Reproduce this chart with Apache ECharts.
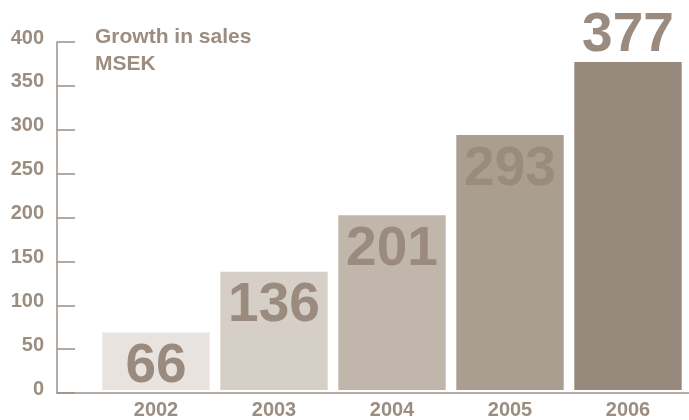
<!DOCTYPE html>
<html><head><meta charset="utf-8">
<script src="https://cdn.jsdelivr.net/npm/echarts@6/dist/echarts.min.js"></script>
<style>html,body{margin:0;padding:0;background:#fff}#c{width:689px;height:420px}</style>
</head><body><div id="c"></div>
<script>
const years = ['2002','2003','2004','2005','2006'];
const sales = [66,136,201,293,377];
const barColors = ['#e8e3df','#d6cfc7','#c1b6ac','#aa9e90','#978a7d'];
const labelPositions = ['insideTop','insideTop','insideTop','insideTop','top'];
const yTicks = [0,50,100,150,200,250,300,350,400];

const txt = '#9b8d80';
const axisCol = '#9d9086';
const font = '"Liberation Sans", Arial, sans-serif';
const chart = echarts.init(document.getElementById('c'));
chart.setOption({
  animation:false,
  title:{text:'Growth in sales\nMSEK',left:90,top:19,textStyle:{color:txt,fontFamily:font,fontWeight:'bold',fontSize:21,lineHeight:27}},
  grid:[
    {left:57,right:0,top:42,bottom:27,containLabel:false},
    {left:97,right:2,top:42,bottom:27,containLabel:false}
  ],
  xAxis:[
    {gridIndex:0,type:'value',min:0,max:1,show:true,z:5,axisLine:{show:true,lineStyle:{color:axisCol,width:1.5}},axisTick:{show:false},axisLabel:{show:false},splitLine:{show:false}},
    {gridIndex:1,type:'category',data:years,axisLine:{show:false},axisTick:{show:false},
     axisLabel:{color:txt,fontFamily:font,fontWeight:'bold',fontSize:20,margin:10}}
  ],
  yAxis:[
    {gridIndex:0,type:'value',min:0,max:400,interval:50,
     axisLine:{show:true,lineStyle:{color:axisCol,width:1.5}},
     axisTick:{show:true,inside:true,length:18,lineStyle:{color:axisCol,width:1.5}},
     splitLine:{show:false},
     axisLabel:{color:txt,fontFamily:font,fontWeight:'bold',fontSize:20,margin:13,verticalAlign:'bottom',lineHeight:8,
       formatter:v=>yTicks.includes(v)?String(v):''}},
    {gridIndex:1,type:'value',min:0,max:400,interval:50,show:false}
  ],
  series:[{
    type:'bar',xAxisIndex:1,yAxisIndex:1,barCategoryGap:'9%',
    data:sales.map((v,i)=>({value:v,itemStyle:{color:barColors[i]},
      label:{position:labelPositions[i],distance:labelPositions[i]==='top'?-1:7}})),
    label:{show:true,color:'#9a8b7e',fontFamily:font,fontWeight:'bold',fontSize:55,letterSpacing:-3}
  }]
});
</script></body></html>
